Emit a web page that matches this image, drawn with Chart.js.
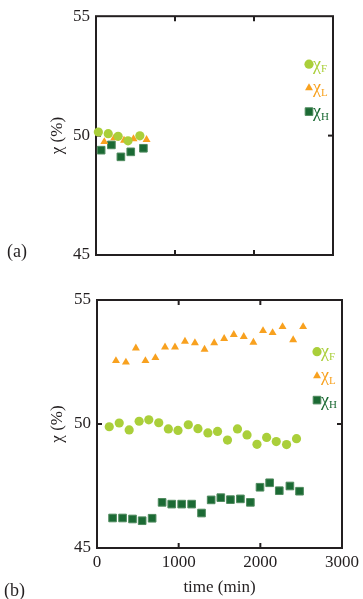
<!DOCTYPE html>
<html><head><meta charset="utf-8">
<script src="https://cdn.jsdelivr.net/npm/chart.js@4.4.0/dist/chart.umd.min.js"></script>
<style>
html,body{margin:0;padding:0;background:#fff;width:363px;height:599px;overflow:hidden;position:relative;}
#wrapA{position:absolute;left:0;top:0;width:363px;height:280px;}
#wrapB{position:absolute;left:0;top:280px;width:363px;height:319px;}
canvas{display:block;}
.pl{position:absolute;font-family:'Liberation Serif','DejaVu Serif',serif;font-size:18px;color:#231f20;line-height:1;}
</style></head><body>
<div id="wrapA"><canvas id="cA" width="363" height="280"></canvas></div>
<div id="wrapB"><canvas id="cB" width="363" height="319"></canvas></div>
<div class="pl" style="left:7px;top:242px">(a)</div>
<div class="pl" style="left:4px;top:581px">(b)</div>
<script>
// ---- Panel (a) data ----
const timeA_F = [30, 155, 280, 405, 555];
const chiA_F  = [50.15, 50.08, 49.97, 49.78, 49.99];
const timeA_L = [105, 230, 355, 475, 640];
const chiA_L  = [49.74, 49.90, 49.80, 49.86, 49.83];
const timeA_H = [65, 195, 315, 440, 600];
const chiA_H  = [49.39, 49.61, 49.11, 49.32, 49.47];

// ---- Panel (b) data ----
const timeB_F = [150, 272, 394, 516, 634, 756, 874, 992, 1118, 1236, 1358, 1476, 1598, 1720, 1837, 1959, 2077, 2195, 2321, 2443];
const chiB_F  = [49.89, 50.04, 49.76, 50.11, 50.17, 50.05, 49.80, 49.74, 49.97, 49.81, 49.64, 49.70, 49.35, 49.80, 49.56, 49.18, 49.46, 49.29, 49.17, 49.41];
const timeB_L = [232, 354, 476, 593, 715, 833, 955, 1077, 1199, 1317, 1435, 1557, 1675, 1797, 1915, 2033, 2150, 2272, 2402, 2524];
const chiB_L  = [52.55, 52.49, 53.06, 52.55, 52.67, 53.10, 53.10, 53.33, 53.27, 53.01, 53.27, 53.44, 53.60, 53.52, 53.29, 53.76, 53.68, 53.92, 53.39, 53.92];
const timeB_H = [191, 313, 435, 553, 675, 797, 915, 1037, 1159, 1280, 1398, 1516, 1634, 1756, 1878, 1996, 2114, 2232, 2362, 2480];
const chiB_H  = [46.21, 46.21, 46.17, 46.10, 46.20, 46.84, 46.77, 46.77, 46.77, 46.41, 46.94, 47.03, 46.95, 46.98, 46.84, 47.45, 47.63, 47.31, 47.50, 47.29];

const seriesSubs = ['F', 'L', 'H'];
const seriesColors = ['#aacf3a', '#f8a11f', '#1b6a34'];
const seriesStyles = ['circle', 'triangle', 'rect'];
const yTickLabels = [45, 50, 55];
const xTickLabels = [0, 1000, 2000, 3000];

const FRAME = '#231f20';
const SERIF = "'Liberation Serif','DejaVu Serif',serif";

function pts(xs, ys) { return xs.map((x, i) => ({x: x, y: ys[i]})); }

function makeDatasets(series) {
  return series.map((s, i) => ({
    label: '\u03c7' + seriesSubs[i],
    sub: seriesSubs[i],
    data: pts(s[0], s[1]),
    pointStyle: seriesStyles[i],
    backgroundColor: seriesColors[i],
    borderColor: i === 2 ? '#4f8a5e' : seriesColors[i],
    pointBorderWidth: i === 2 ? 1 : 0,
    pointRadius: i === 0 ? 4.6 : (i === 1 ? 4.6 : 5.4),
    showLine: false,
    clip: false
  }));
}

const framePlugin = {
  id: 'frame',
  beforeDatasetsDraw(chart) {
    const {ctx, chartArea: a, scales} = chart;
    const tl = 5;
    ctx.save();
    ctx.strokeStyle = FRAME;
    ctx.lineWidth = 2;
    ctx.strokeRect(a.left, a.top, a.right - a.left, a.bottom - a.top);
    const line = (x1, y1, x2, y2) => { ctx.beginPath(); ctx.moveTo(x1, y1); ctx.lineTo(x2, y2); ctx.stroke(); };
    const xs = scales.x, ys = scales.y;
    xs.ticks.forEach(t => {
      if (t.value <= xs.min || t.value >= xs.max) return;
      const x = xs.getPixelForValue(t.value);
      line(x, a.top, x, a.top + tl);
      line(x, a.bottom, x, a.bottom - tl);
    });
    ys.ticks.forEach(t => {
      if (t.value <= ys.min || t.value >= ys.max) return;
      const y = ys.getPixelForValue(t.value);
      line(a.left, y, a.left + tl, y);
      line(a.right, y, a.right - tl, y);
    });
    ctx.restore();
  }
};

const legendPlugin = {
  id: 'inlegend',
  afterDatasetsDraw(chart, args, opts) {
    const {ctx, chartArea: a} = chart;
    const mx = a.right + opts.dx;
    chart.data.datasets.forEach((ds, i) => {
      const my = a.top + opts.dy + i * opts.gap;
      ctx.save();
      ctx.fillStyle = ds.backgroundColor;
      ctx.strokeStyle = ds.borderColor;
      ctx.lineWidth = ds.pointBorderWidth;
      Chart.helpers.drawPoint(ctx, {pointStyle: ds.pointStyle, radius: ds.pointRadius, rotation: 0, borderWidth: ds.pointBorderWidth}, mx, my);
      ctx.fillStyle = ds.backgroundColor;
      ctx.textBaseline = 'alphabetic';
      ctx.textAlign = 'left';
      ctx.font = '18px ' + SERIF;
      const tx = mx + 4;
      ctx.fillText('\u03c7', tx, my + 5.5);
      const w = ctx.measureText('\u03c7').width;
      ctx.font = '11px ' + SERIF;
      ctx.fillText(ds.sub, tx + w, my + 8);
      ctx.restore();
    });
  }
};

function makeChart(id, datasets, cfg) {
  return new Chart(document.getElementById(id), {
    type: 'scatter',
    data: {datasets: datasets},
    options: {
      responsive: false,
      animation: false,
      events: [],
      layout: {padding: cfg.padding},
      plugins: {legend: {display: false}, tooltip: {enabled: false}, inlegend: cfg.legend},
      scales: {
        x: {
          type: 'linear', min: 0, max: 3000,
          display: cfg.showX,
          afterBuildTicks: s => { s.ticks = xTickLabels.map(v => ({value: v})); },
          afterFit: s => { if (cfg.xHeight) s.height = cfg.xHeight; },
          grid: {display: false, drawTicks: false},
          border: {display: false},
          ticks: {padding: 4, color: FRAME, font: {family: SERIF, size: 17}, maxRotation: 0, callback: v => String(v)},
          title: {display: cfg.showX, text: 'time (min)', color: FRAME, padding: 0, font: {family: SERIF, size: 17}}
        },
        y: {
          type: 'linear', min: 45, max: 55,
          afterBuildTicks: s => { s.ticks = yTickLabels.map(v => ({value: v})); },
          afterFit: s => { s.width = cfg.yWidth; },
          grid: {display: false, drawTicks: false},
          border: {display: false},
          ticks: {padding: 6, color: FRAME, font: {family: SERIF, size: 17}, callback: v => String(v)},
          title: {display: true, text: '\u03c7 (%)', color: FRAME, padding: 0, font: {family: SERIF, size: 17}}
        }
      }
    },
    plugins: [framePlugin, legendPlugin]
  });
}

makeChart('cA', makeDatasets([[timeA_F, chiA_F], [timeA_L, chiA_L], [timeA_H, chiA_H]]), {
  padding: {left: 47, top: 16, right: 30, bottom: 25},
  yWidth: 49, showX: false, xHeight: 0,
  legend: {dx: -24, dy: 48, gap: 23.7}
});
makeChart('cB', makeDatasets([[timeB_F, chiB_F], [timeB_L, chiB_L], [timeB_H, chiB_H]]), {
  padding: {left: 47, top: 20, right: 20, bottom: 1},
  yWidth: 50, showX: true, xHeight: 50,
  legend: {dx: -25, dy: 51.7, gap: 24.2}
});
</script>
</body></html>
